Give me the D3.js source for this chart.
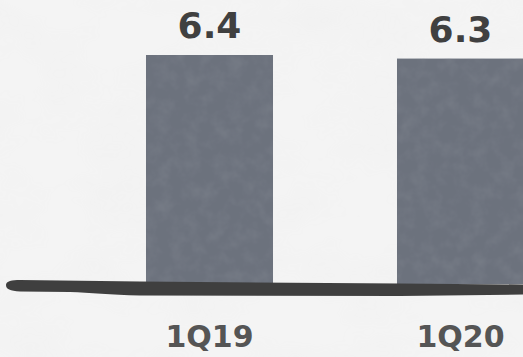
<!DOCTYPE html>
<html>
<head>
<meta charset="utf-8">
<script src="https://cdn.jsdelivr.net/npm/d3@7/dist/d3.min.js"></script>
<style>
  html, body { margin: 0; padding: 0; background: #f3f3f3; overflow: hidden; }
  svg { display: block; }
</style>
</head>
<body>
<svg id="chart" width="523" height="357"></svg>
<script>
const categories = ["1Q19", "1Q20"];
const values = [6.4, 6.3];
const valueLabels = ["6.4", "6.3"];

const W = 523, H = 357;
const svg = d3.select("#chart");

const defs = svg.append("defs");
// background marble texture
const bgF = defs.append("filter").attr("id", "bgtex").attr("x", 0).attr("y", 0).attr("width", "100%").attr("height", "100%");
bgF.append("feTurbulence").attr("type", "fractalNoise").attr("baseFrequency", "0.012 0.02").attr("numOctaves", 4).attr("seed", 7).attr("result", "n");
bgF.append("feColorMatrix").attr("type", "matrix")
  .attr("values", "0 0 0 0 0.55  0 0 0 0 0.55  0 0 0 0 0.55  0 0 0 -0.9 0.55").attr("in", "n").attr("result", "c");
bgF.append("feComposite").attr("in", "c").attr("in2", "SourceGraphic").attr("operator", "in");

// bar texture
const barF = defs.append("filter").attr("id", "bartex").attr("x", 0).attr("y", 0).attr("width", "100%").attr("height", "100%");
barF.append("feTurbulence").attr("type", "fractalNoise").attr("baseFrequency", "0.07").attr("numOctaves", 3).attr("seed", 3).attr("result", "n");
barF.append("feColorMatrix").attr("type", "matrix")
  .attr("values", "0 0 0 0 0.25  0 0 0 0 0.27  0 0 0 0 0.31  0 0 0 -1.3 0.8").attr("in", "n").attr("result", "c");
barF.append("feComposite").attr("in", "c").attr("in2", "SourceGraphic").attr("operator", "in");

svg.append("rect").attr("width", W).attr("height", H).attr("fill", "#f4f4f4");
svg.append("rect").attr("width", W).attr("height", H).attr("fill", "#000").attr("filter", "url(#bgtex)").attr("opacity", 0.1);

const x = d3.scaleBand().domain(categories).range([84, 586]).paddingInner(0.494).paddingOuter(0.247);
const y = d3.scaleLinear().domain([0, 6.4]).range([284, 55]);

const data = categories.map((c, i) => ({ c, v: values[i], label: valueLabels[i] }));

const bars = svg.append("g");
bars.selectAll("rect.bar").data(data).join("rect")
  .attr("class", "bar")
  .attr("x", d => x(d.c)).attr("width", x.bandwidth())
  .attr("y", d => y(d.v)).attr("height", d => y(0) - y(d.v))
  .attr("fill", "#6c727d");
bars.selectAll("rect.tex").data(data).join("rect")
  .attr("class", "tex")
  .attr("x", d => x(d.c)).attr("width", x.bandwidth())
  .attr("y", d => y(d.v)).attr("height", d => y(0) - y(d.v))
  .attr("fill", "#000").attr("filter", "url(#bartex)").attr("opacity", 0.45);

// brush-stroke baseline
const y0 = y(0);
const bx0 = 6, bx1 = W + 2;
const brush = d3.path();
brush.moveTo(bx0, y0 + 1);
brush.bezierCurveTo(bx0, y0 - 3, bx0 + 6, y0 - 4, bx0 + 14, y0 - 4);
brush.lineTo(140, y0 - 2.5);
brush.lineTo(400, y0 - 0.5);
brush.lineTo(bx1, y0 + 0.5);
brush.lineTo(bx1, y0 + 10.5);
brush.lineTo(400, y0 + 12);
brush.lineTo(140, y0 + 11.5);
brush.bezierCurveTo(110, y0 + 11, 90, y0 + 8.5, 70, y0 + 8);
brush.lineTo(bx0 + 14, y0 + 7.5);
brush.bezierCurveTo(bx0 + 4, y0 + 7, bx0, y0 + 5, bx0, y0 + 1);
brush.closePath();
svg.append("path").attr("d", brush.toString()).attr("fill", "#3f3f3f");

// value labels
svg.append("g").selectAll("text").data(data).join("text")
  .attr("x", d => x(d.c) + x.bandwidth() / 2)
  .attr("y", d => y(d.v) - 17)
  .attr("text-anchor", "middle")
  .attr("font-family", "'DejaVu Sans', Verdana, sans-serif")
  .attr("font-weight", "bold")
  .attr("font-size", 36)
  .attr("fill", "#404040")
  .text(d => d.label);

// category labels
svg.append("g").selectAll("text").data(data).join("text")
  .attr("x", d => x(d.c) + x.bandwidth() / 2)
  .attr("y", 347)
  .attr("text-anchor", "middle")
  .attr("font-family", "'DejaVu Sans', Verdana, sans-serif")
  .attr("font-weight", "bold")
  .attr("font-size", 30)
  .attr("fill", "#555555")
  .text(d => d.c);
</script>
</body>
</html>
